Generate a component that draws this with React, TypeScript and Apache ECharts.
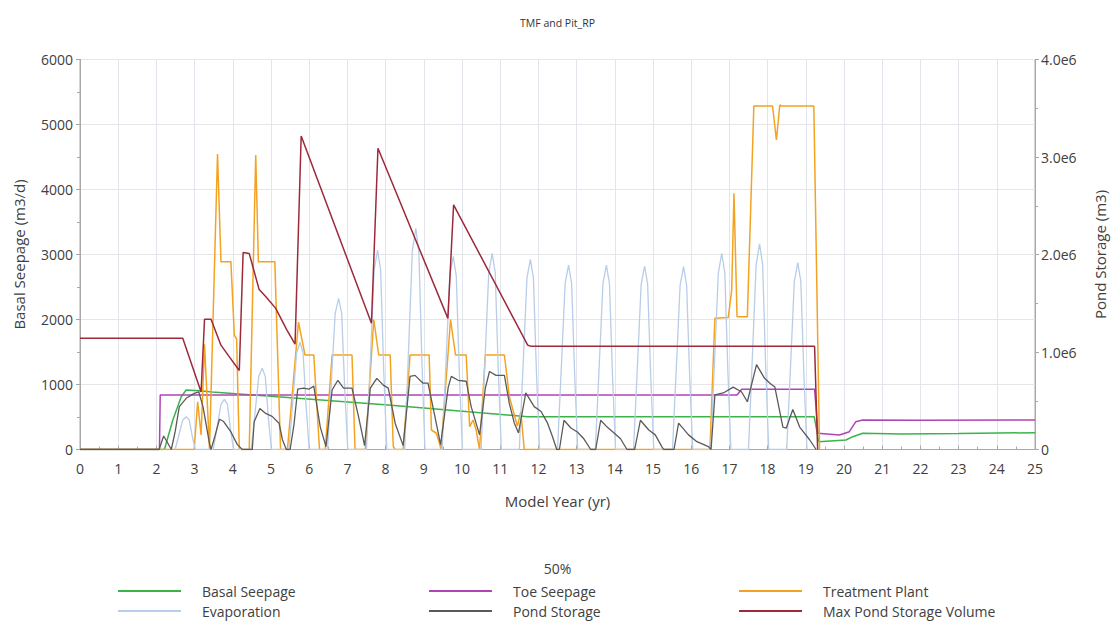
import React, { useEffect, useRef } from "react";
import * as echarts from "echarts";

const FONT = "'Open Sans', 'Noto Sans', sans-serif";
const TEXT = "#404040";

// [model year, m3/d]
const basalSeepage: [number, number][] = [
  [0, 0], [2.21, 0], [2.43, 454], [2.65, 812], [2.78, 915], [3.13, 905], [3.47, 885],
  [8.07, 685], [11.72, 505], [19.22, 505], [19.34, 120], [20.05, 146], [20.23, 197],
  [20.49, 250], [21.5, 240], [23.0, 245], [25, 259],
];

// [model year, m3/d]
const toeSeepage: [number, number][] = [
  [0, 0], [2.08, 0], [2.1, 838], [17.2, 838], [17.32, 926], [19.23, 926], [19.32, 249],
  [19.88, 223], [20.14, 274], [20.31, 428], [20.49, 454], [22, 449], [25, 454],
];

// [model year, m3/d]
const treatmentPlant: [number, number][] = [
  [0, 0], [2.99, 0], [3.08, 735], [3.17, 223], [3.26, 1620], [3.39, 0], [3.6, 4546],
  [3.69, 2890], [3.95, 2890], [4.04, 1760], [4.1, 1700], [4.17, 0], [4.43, 0], [4.6, 4531],
  [4.67, 2890], [5.1, 2890], [5.25, 0], [5.43, 0], [5.72, 1960], [5.89, 1454], [6.12, 1454],
  [6.27, 0], [6.42, 0], [6.6, 1454], [7.12, 1454], [7.2, 0], [7.47, 0], [7.69, 2000],
  [7.82, 1454], [8.12, 1454], [8.2, 50], [8.25, 0], [8.46, 0], [8.64, 1454], [9.14, 1454],
  [9.2, 300], [9.33, 250], [9.41, 95], [9.45, 0], [9.7, 2000], [9.83, 1454], [10.11, 1454],
  [10.2, 351], [10.29, 454], [10.37, 300], [10.46, 0], [10.61, 1454], [11.11, 1454],
  [11.24, 812], [11.37, 531], [11.45, 360], [11.54, 581], [11.63, 0], [16.49, 0],
  [16.62, 2018], [16.97, 2030], [17.06, 2454], [17.12, 3942], [17.2, 2044], [17.47, 2044],
  [17.64, 5285], [18.13, 5285], [18.23, 4762], [18.32, 5300], [18.36, 5285], [19.21, 5285],
  [19.36, 0],
];

// [model year, m3/d]
const evaporation: [number, number][] = [
  [2.49, 0], [2.58, 200], [2.69, 455], [2.78, 505], [2.86, 455], [2.94, 200], [3.02, 0],
  [3.49, 0], [3.58, 310], [3.69, 695], [3.78, 772], [3.86, 695], [3.94, 310], [4.02, 0],
  [4.48, 0], [4.57, 500], [4.68, 1125], [4.77, 1249], [4.85, 1125], [4.93, 500], [5.01, 0],
  [5.47, 0], [5.56, 660], [5.67, 1485], [5.76, 1650], [5.84, 1485], [5.92, 660], [6.0, 0],
  [6.48, 0], [6.57, 930], [6.68, 2095], [6.77, 2326], [6.85, 2095], [6.93, 930], [7.01, 0],
  [7.5, 0], [7.59, 1230], [7.7, 2760], [7.79, 3069], [7.87, 2760], [7.95, 1230], [8.03, 0],
  [8.5, 0], [8.59, 1360], [8.7, 3060], [8.79, 3403], [8.87, 3060], [8.95, 1360], [9.03, 0],
  [9.48, 0], [9.57, 1190], [9.68, 2670], [9.77, 2970], [9.85, 2670], [9.93, 1190], [10.01, 0],
  [10.5, 0], [10.59, 1210], [10.7, 2715], [10.79, 3018], [10.87, 2715], [10.95, 1210], [11.03, 0],
  [11.5, 0], [11.59, 1170], [11.7, 2635], [11.79, 2926], [11.87, 2635], [11.95, 1170], [12.03, 0],
  [12.5, 0], [12.59, 1135], [12.7, 2555], [12.79, 2838], [12.87, 2555], [12.95, 1135], [13.03, 0],
  [13.49, 0], [13.58, 1135], [13.69, 2555], [13.78, 2838], [13.86, 2555], [13.94, 1135], [14.02, 0],
  [14.49, 0], [14.58, 1130], [14.69, 2540], [14.78, 2823], [14.86, 2540], [14.94, 1130], [15.02, 0],
  [15.51, 0], [15.6, 1125], [15.71, 2530], [15.8, 2813], [15.88, 2530], [15.96, 1125], [16.04, 0],
  [16.51, 0], [16.6, 1210], [16.71, 2715], [16.8, 3018], [16.88, 2715], [16.96, 1210], [17.04, 0],
  [17.5, 0], [17.59, 1265], [17.7, 2845], [17.79, 3162], [17.87, 2845], [17.95, 1265], [18.03, 0],
  [18.5, 0], [18.59, 1150], [18.7, 2585], [18.79, 2874], [18.87, 2585], [18.95, 1150], [19.03, 0],
];

// [model year, m3]
const pondStorage: [number, number][] = [
  [0, 0], [2.07, 0], [2.19, 138000], [2.3, 64000], [2.39, 0], [2.49, 180000], [2.6, 440000],
  [2.78, 525000], [2.99, 576000], [3.11, 590000], [3.22, 440000], [3.39, 60000], [3.43, 0],
  [3.52, 120000], [3.65, 310000], [3.75, 290000], [3.95, 180000], [4.12, 50000], [4.25, 0],
  [4.51, 0], [4.56, 285000], [4.71, 420000], [4.86, 370000], [5.03, 340000], [5.21, 270000],
  [5.3, 100000], [5.4, 0], [5.5, 0], [5.6, 250000], [5.7, 620000], [5.85, 630000],
  [6.0, 620000], [6.12, 650000], [6.29, 230000], [6.44, 30000], [6.6, 610000], [6.75, 710000],
  [6.9, 630000], [7.12, 630000], [7.29, 340000], [7.45, 40000], [7.6, 630000], [7.77, 730000],
  [7.94, 660000], [8.07, 630000], [8.25, 270000], [8.46, 40000], [8.64, 750000], [8.77, 760000],
  [8.98, 680000], [9.11, 680000], [9.29, 340000], [9.44, 50000], [9.64, 640000], [9.72, 750000],
  [9.9, 710000], [10.11, 700000], [10.24, 440000], [10.46, 150000], [10.61, 630000],
  [10.72, 800000], [10.89, 760000], [11.11, 760000], [11.24, 470000], [11.37, 270000],
  [11.48, 170000], [11.67, 580000], [11.89, 440000], [12.07, 390000], [12.24, 270000],
  [12.37, 130000], [12.48, 0], [12.55, 0], [12.67, 300000], [12.85, 220000], [13.02, 180000],
  [13.19, 110000], [13.37, 0], [13.5, 0], [13.63, 300000], [13.8, 230000], [13.98, 170000],
  [14.15, 110000], [14.32, 0], [14.52, 0], [14.67, 300000], [14.89, 200000], [15.06, 150000],
  [15.23, 30000], [15.28, 0], [15.55, 0], [15.67, 270000], [15.93, 150000], [16.15, 80000],
  [16.45, 30000], [16.52, 0], [16.62, 560000], [16.84, 580000], [17.1, 640000], [17.32, 590000],
  [17.47, 490000], [17.71, 870000], [17.92, 730000], [18.06, 680000], [18.19, 640000],
  [18.4, 230000], [18.49, 220000], [18.66, 410000], [18.84, 230000], [19.1, 100000], [19.27, 0],
];

// [model year, m3]
const maxPondStorage: [number, number][] = [
  [0, 1140000], [2.69, 1140000], [3.17, 590000], [3.26, 1335000], [3.43, 1335000],
  [3.69, 1070000], [3.91, 950000], [4.17, 810000], [4.27, 2020000], [4.43, 2010000],
  [4.69, 1640000], [4.86, 1570000], [5.12, 1450000], [5.41, 1230000], [5.63, 1080000],
  [5.79, 3215000], [7.63, 1295000], [7.8, 3090000], [9.63, 1345000], [9.78, 2510000],
  [11.72, 1070000], [11.8, 1060000], [19.23, 1060000], [19.31, 0],
];

const seriesDefs = [
  { name: "Basal Seepage", data: basalSeepage, color: "#3bb34a", axis: 0, width: 1.5 },
  { name: "Toe Seepage", data: toeSeepage, color: "#b044b4", axis: 0, width: 1.5 },
  { name: "Treatment Plant", data: treatmentPlant, color: "#f4a321", axis: 0, width: 1.5 },
  { name: "Evaporation", data: evaporation, color: "#b8cde8", axis: 0, width: 1.3 },
  { name: "Pond Storage", data: pondStorage, color: "#5a5a5a", axis: 1, width: 1.3 },
  { name: "Max Pond Storage Volume", data: maxPondStorage, color: "#9c2a3b", axis: 1, width: 1.5 },
];

// legend grid: 3 columns x 2 rows
const legendCols = [118, 429, 739];
const legendRows = [584, 604];
const legendOrder = [
  "Basal Seepage", "Toe Seepage", "Treatment Plant",
  "Evaporation", "Pond Storage", "Max Pond Storage Volume",
];

export default function App() {
  const ref = useRef<HTMLDivElement>(null);

  useEffect(() => {
    const chart = echarts.init(ref.current!, null, { renderer: "svg" });

    const legends = legendOrder.map((name, i) => ({
      data: [name],
      left: legendCols[i % 3],
      top: legendRows[Math.floor(i / 3)],
      padding: 0,
      icon: "rect",
      itemWidth: 63,
      itemHeight: 2,
      selectedMode: false,
      formatter: "{t|{name}}",
      textStyle: {
        rich: {
          t: { padding: [0, 0, 0, 16], fontSize: 14, color: TEXT, fontFamily: FONT },
        },
      },
    }));

    chart.setOption({
      animation: false,
      backgroundColor: "#ffffff",
      textStyle: { fontFamily: FONT },
      title: [
        {
          text: "TMF and Pit_RP",
          left: "center",
          top: 12,
          textStyle: { fontSize: 10.5, fontWeight: "normal", color: "#333", fontFamily: FONT },
        },
        {
          text: "50%",
          left: "center",
          top: 556,
          textStyle: { fontSize: 14, fontWeight: "normal", color: TEXT, fontFamily: FONT },
        },
      ],
      legend: legends,
      grid: {
        left: 80,
        right: 75,
        top: 59.5,
        bottom: 171.5,
        show: true,
        borderColor: "#a8a8a8",
        borderWidth: 1,
        backgroundColor: "transparent",
      },
      xAxis: {
        type: "value",
        min: 0,
        max: 25,
        interval: 1,
        name: "Model Year (yr)",
        nameLocation: "middle",
        nameGap: 44,
        nameTextStyle: { fontSize: 15, color: TEXT, fontFamily: FONT },
        axisLine: { show: true, lineStyle: { color: "#a8a8a8" } },
        axisTick: { show: true, inside: true, length: 4, lineStyle: { color: "#a8a8a8" } },
        minorTick: { show: true, splitNumber: 2, length: 3, lineStyle: { color: "#a8a8a8" } },
        axisLabel: { fontSize: 14, color: TEXT, margin: 12, fontFamily: FONT },
        splitLine: { show: true, lineStyle: { color: "#e2e6ec", width: 1 } },
      },
      yAxis: [
        {
          type: "value",
          min: 0,
          max: 6000,
          interval: 1000,
          position: "left",
          name: "Basal Seepage (m3/d)",
          nameLocation: "middle",
          nameGap: 54,
          nameTextStyle: { fontSize: 15, color: TEXT, fontFamily: FONT },
          axisLine: { show: true, lineStyle: { color: "#a8a8a8" } },
          axisTick: { show: true, length: 4, lineStyle: { color: "#a8a8a8" } },
          minorTick: { show: true, splitNumber: 2, length: 3, lineStyle: { color: "#a8a8a8" } },
          axisLabel: {
            fontSize: 14,
            color: TEXT,
            margin: 7,
            fontFamily: FONT,
            formatter: (v: number) => String(v),
          },
          splitLine: { show: true, lineStyle: { color: "#e6e6e6", width: 1 } },
        },
        {
          type: "value",
          min: 0,
          max: 4000000,
          interval: 1000000,
          position: "right",
          name: "Pond Storage (m3)",
          nameLocation: "middle",
          nameGap: 57,
          nameTextStyle: { fontSize: 15, color: TEXT, fontFamily: FONT },
          axisLine: { show: true, lineStyle: { color: "#a8a8a8" } },
          axisTick: { show: true, length: 4, lineStyle: { color: "#a8a8a8" } },
          minorTick: { show: true, splitNumber: 2, length: 3, lineStyle: { color: "#a8a8a8" } },
          axisLabel: {
            fontSize: 14,
            color: TEXT,
            margin: 6,
            fontFamily: FONT,
            formatter: (v: number) => (v === 0 ? "0" : (v / 1e6).toFixed(1) + "e6"),
          },
          splitLine: { show: false },
        },
      ],
      series: seriesDefs.map((s) => ({
        name: s.name,
        type: "line",
        yAxisIndex: s.axis,
        data: s.data,
        symbol: "none",
        showSymbol: false,
        color: s.color,
        lineStyle: { color: s.color, width: s.width },
      })),
    });

    return () => chart.dispose();
  }, []);

  return (
    <div
      ref={ref}
      style={{ position: "absolute", left: 0, top: 0, width: 1115, height: 621 }}
    />
  );
}
